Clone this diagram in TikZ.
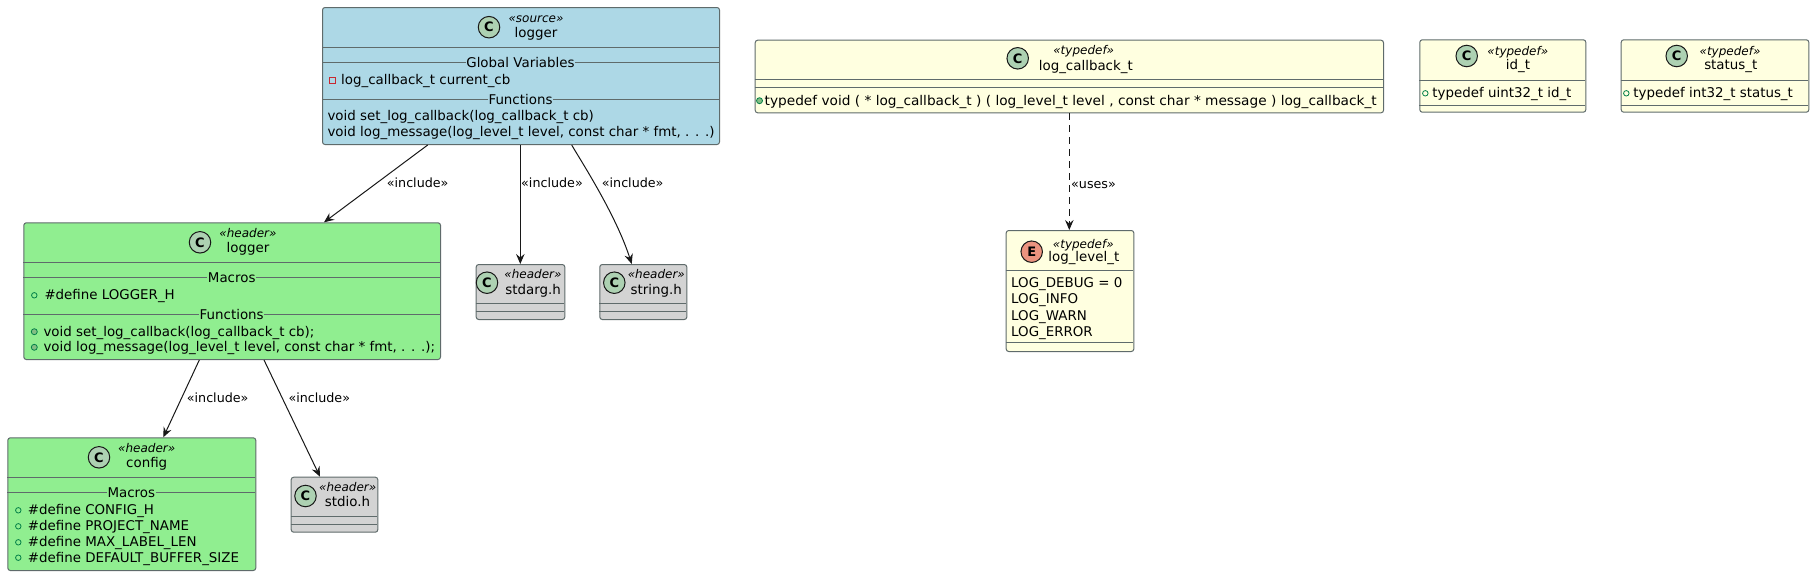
\documentclass[tikz,border=0pt]{standalone}
\usepackage{fontspec}
\setmainfont{DejaVu Sans}
\usepackage{graphicx}
\usetikzlibrary{arrows.meta,calc}

\definecolor{srcfill}{HTML}{ADD8E6}
\definecolor{hdrfill}{HTML}{90EE90}
\definecolor{sysfill}{HTML}{D3D3D3}
\definecolor{tdfill}{HTML}{FFFFE0}
\definecolor{bordc}{HTML}{5F6B6B}
\definecolor{ink}{HTML}{181818}
\definecolor{cfill}{HTML}{ADD1B2}
\definecolor{efill}{HTML}{EB937F}
\definecolor{pubc}{HTML}{038048}
\definecolor{pubf}{HTML}{84BE84}
\definecolor{privc}{HTML}{C82930}

\begin{document}
\begin{tikzpicture}[x=1pt,y=-1pt,
 umlbox/.style={draw=bordc, line width=1pt, rounded corners=2.5pt, anchor=north west, inner sep=0pt},
 sepline/.style={draw=bordc, line width=1pt},
 badge/.style={circle, draw=ink, line width=1pt, minimum size=21.5pt, inner sep=0pt, font=\fontsize{13}{13}\selectfont\bfseries},
 stereo/.style={inner sep=0pt, anchor=base, font=\fontsize{12}{14}\selectfont\itshape},
 cname/.style={inner sep=0pt, anchor=base, font=\fontsize{13.4}{16}\selectfont},
 member/.style={inner sep=0pt, anchor=base west, font=\fontsize{13.4}{16}\selectfont},
 septitle/.style={inner xsep=0.5pt, inner ysep=0pt, font=\fontsize{13.4}{16}\selectfont},
 privmark/.style={rectangle, draw=privc, line width=0.9pt, minimum size=6pt, inner sep=0pt},
 fieldmark/.style={circle, draw=pubc, line width=0.8pt, minimum size=5.5pt, inner sep=0pt},
 methmark/.style={circle, draw=pubc, fill=pubf, line width=0.8pt, minimum size=6pt, inner sep=0pt},
 arr/.style={draw=ink, line width=1pt, -{Stealth[length=10pt,width=8.5pt,inset=3.5pt]}},
 lbl/.style={inner sep=0pt, anchor=base west, font=\fontsize{12.7}{15}\selectfont},
]
\useasboundingbox (0,0) rectangle (1814,576);

% ---------- logger (source) ----------
\node[umlbox, fill=srcfill, minimum width=397pt, minimum height=137pt] (srcLogger) at (322,7) {};
\node[badge, fill=cfill] (srcBadge) at (489,27.2) {C};
\node[stereo] (srcSt) at (536,22.7) {«source»};
\node[cname] (srcName) at (536,37.3) {logger};
\draw[sepline] (322,47.3) -- (719,47.3);
\node[septitle] (srcGV) at (520.5,62.7) {Global Variables};
\draw[sepline] (322,62.7) -- (srcGV.west);
\draw[sepline] (srcGV.east) -- (719,62.7);
\node[privmark] (srcM1) at (332.3,80) {};
\node[member] (srcV1) at (341,84.3) {log\_callback\_t current\_cb};
\node[septitle] (srcFn) at (520.5,99.3) {Functions};
\draw[sepline] (322,99.3) -- (srcFn.west);
\draw[sepline] (srcFn.east) -- (719,99.3);
\node[member] (srcF1) at (327.3,120.7) {void set\_log\_callback(log\_callback\_t cb)};
\node[member] (srcF2) at (327.3,136.7) {void log\_message(log\_level\_t level, const char * fmt, . . .)};

% ---------- logger (header) ----------
\node[umlbox, fill=hdrfill, minimum width=416.7pt, minimum height=136.7pt] (hdrLogger) at (23.3,222.3) {};
\node[badge, fill=cfill] (hdrBadge) at (200,242.3) {C};
\node[stereo] (hdrSt) at (248,237.7) {«header»};
\node[cname] (hdrName) at (248,252.3) {logger};
\draw[sepline] (23.3,262.3) -- (440,262.3);
\node[septitle] (hdrMac) at (231.7,277.7) {Macros};
\draw[sepline] (23.3,277.7) -- (hdrMac.west);
\draw[sepline] (hdrMac.east) -- (440,277.7);
\node[fieldmark] (hdrM1) at (34.3,295.3) {};
\node[member] (hdrD1) at (44.3,299.6) {\#define LOGGER\_H};
\node[septitle] (hdrFn) at (231.7,314.3) {Functions};
\draw[sepline] (23.3,314.3) -- (hdrFn.west);
\draw[sepline] (hdrFn.east) -- (440,314.3);
\node[methmark] (hdrM2) at (34.3,331.7) {};
\node[member] (hdrF1) at (43.3,336) {void set\_log\_callback(log\_callback\_t cb);};
\node[methmark] (hdrM3) at (34.3,347.3) {};
\node[member] (hdrF2) at (43.3,351.6) {void log\_message(log\_level\_t level, const char * fmt, . . .);};

% ---------- config ----------
\node[umlbox, fill=hdrfill, minimum width=248pt, minimum height=132.7pt] (config) at (7.3,437.3) {};
\node[badge, fill=cfill] (cfgBadge) at (99,457.3) {C};
\node[stereo] (cfgSt) at (146.7,452.7) {«header»};
\node[cname] (cfgName) at (146.7,467.3) {config};
\draw[sepline] (7.3,477.3) -- (255.3,477.3);
\node[septitle] (cfgMac) at (131.3,492.7) {Macros};
\draw[sepline] (7.3,492.7) -- (cfgMac.west);
\draw[sepline] (cfgMac.east) -- (255.3,492.7);
\node[fieldmark] (cfgM1) at (18.3,510.3) {};
\node[member] (cfgD1) at (27.7,514.6) {\#define CONFIG\_H};
\node[fieldmark] (cfgM2) at (18.3,526.3) {};
\node[member] (cfgD2) at (27.7,530.6) {\#define PROJECT\_NAME};
\node[fieldmark] (cfgM3) at (18.3,542.3) {};
\node[member] (cfgD3) at (27.7,546.6) {\#define MAX\_LABEL\_LEN};
\node[fieldmark] (cfgM4) at (18.3,557.7) {};
\node[member] (cfgD4) at (27.7,562) {\#define DEFAULT\_BUFFER\_SIZE};

% ---------- stdio.h ----------
\node[umlbox, fill=sysfill, minimum width=86.6pt, minimum height=55pt] (stdioH) at (290.7,476.7) {};
\node[badge, fill=cfill] (stdioBadge) at (305.5,496) {C};
\node[stereo] (stdioSt) at (347.7,491.4) {«header»};
\node[cname] (stdioName) at (347.5,506.7) {stdio.h};
\draw[sepline] (290.7,516.7) -- (377.3,516.7);
\draw[sepline] (290.7,524.3) -- (377.3,524.3);

% ---------- stdarg.h ----------
\node[umlbox, fill=sysfill, minimum width=88.6pt, minimum height=55pt] (stdargH) at (475.7,264) {};
\node[badge, fill=cfill] (stdargBadge) at (487,282.7) {C};
\node[stereo] (stdargSt) at (533,278.7) {«header»};
\node[cname] (stdargName) at (533.2,294) {stdarg.h};
\draw[sepline] (475.7,303.3) -- (564.3,303.3);
\draw[sepline] (475.7,311) -- (564.3,311);

% ---------- string.h ----------
\node[umlbox, fill=sysfill, minimum width=87pt, minimum height=55pt] (stringH) at (599.3,264) {};
\node[badge, fill=cfill] (stringBadge) at (614.3,282.7) {C};
\node[stereo] (stringSt) at (656.3,278.7) {«header»};
\node[cname] (stringName) at (656.2,294) {string.h};
\draw[sepline] (599.3,303.3) -- (686.3,303.3);
\draw[sepline] (599.3,311) -- (686.3,311);

% ---------- log_callback_t ----------
\node[umlbox, fill=tdfill, minimum width=628.3pt, minimum height=72.6pt] (cbType) at (754.7,39.7) {};
\node[badge, fill=cfill] (cbBadge) at (1017.7,58.3) {C};
\node[stereo] (cbSt) at (1083.7,54.3) {«typedef»};
\node[cname] (cbName) at (1085.8,70.3) {log\_callback\_t};
\draw[sepline] (754.7,79) -- (1383,79);
\draw[sepline] (754.7,87.3) -- (1383,87.3);
\node[methmark] (cbM1) at (759.5,100.7) {};
\node[member] (cbT1) at (764.5,105.3) {\resizebox{612pt}{\height}{typedef void ( * log\_callback\_t ) ( log\_level\_t level , const char * message ) log\_callback\_t}};

% ---------- id_t ----------
\node[umlbox, fill=tdfill, minimum width=166pt, minimum height=72.4pt] (idT) at (1419.3,39.3) {};
\node[badge, fill=cfill] (idBadge) at (1466.7,56) {C};
\node[stereo] (idSt) at (1517.8,55) {«typedef»};
\node[cname] (idName) at (1518,69.3) {id\_t};
\draw[sepline] (1419.3,80) -- (1585.3,80);
\draw[sepline] (1419.3,105) -- (1585.3,105);
\node[fieldmark] (idM1) at (1425.3,93.3) {};
\node[member] (idT1) at (1432.2,97.6) {typedef uint32\_t id\_t};

% ---------- status_t ----------
\node[umlbox, fill=tdfill, minimum width=187.6pt, minimum height=72.4pt] (statusT) at (1620.7,39.3) {};
\node[badge, fill=cfill] (stBadge) at (1676.7,56) {C};
\node[stereo] (stSt) at (1730,55) {«typedef»};
\node[cname] (stName) at (1730.8,69.3) {status\_t};
\draw[sepline] (1620.7,80) -- (1808.3,80);
\draw[sepline] (1620.7,105) -- (1808.3,105);
\node[fieldmark] (stM1) at (1626.3,93.3) {};
\node[member] (stT1) at (1633.2,97.6) {typedef int32\_t status\_t};

% ---------- log_level_t ----------
\node[umlbox, fill=tdfill, minimum width=127.6pt, minimum height=121pt] (levelT) at (1005.7,230) {};
\node[badge, fill=efill] (lvBadge) at (1031.7,251.7) {E};
\node[stereo] (lvSt) at (1083.3,248.5) {«typedef»};
\node[cname] (lvName) at (1083.8,261.5) {log\_level\_t};
\draw[sepline] (1005.7,270.7) -- (1133.3,270.7);
\node[member] (lv1) at (1011,287.6) {LOG\_DEBUG = 0};
\node[member] (lv2) at (1011,303.6) {LOG\_INFO};
\node[member] (lv3) at (1011,320) {LOG\_WARN};
\node[member] (lv4) at (1011,336.6) {LOG\_ERROR};
\draw[sepline] (1005.7,342.7) -- (1133.3,342.7);

% ---------- connectors ----------
\draw[arr] ([xshift=105.7pt]srcLogger.south west) -- ([xshift=300.7pt]hdrLogger.north west);
\draw[arr] ([xshift=198.3pt]srcLogger.south west) -- ([xshift=44.6pt]stdargH.north west);
\draw[arr] ([xshift=249.7pt]srcLogger.south west) .. controls +(8,14) and +(-16,-50) .. ([xshift=32.4pt]stringH.north west);
\draw[arr] ([xshift=176pt]hdrLogger.south west) -- ([xshift=156pt]config.north west);
\draw[arr] ([xshift=240.7pt]hdrLogger.south west) -- ([xshift=29.3pt]stdioH.north west);
\draw[arr, dash pattern=on 7pt off 5pt] ([xshift=314.6pt]cbType.south west) -- ([xshift=63.6pt]levelT.north west);

\node[lbl] (l1) at (386.7,187.3) {«include»};
\node[lbl] (l2) at (521,187.3) {«include»};
\node[lbl] (l3) at (601.7,187.3) {«include»};
\node[lbl] (l4) at (186.7,402.3) {«include»};
\node[lbl] (l5) at (288.3,402.3) {«include»};
\node[lbl] (l6) at (1071,188) {«uses»};
\end{tikzpicture}
\end{document}
